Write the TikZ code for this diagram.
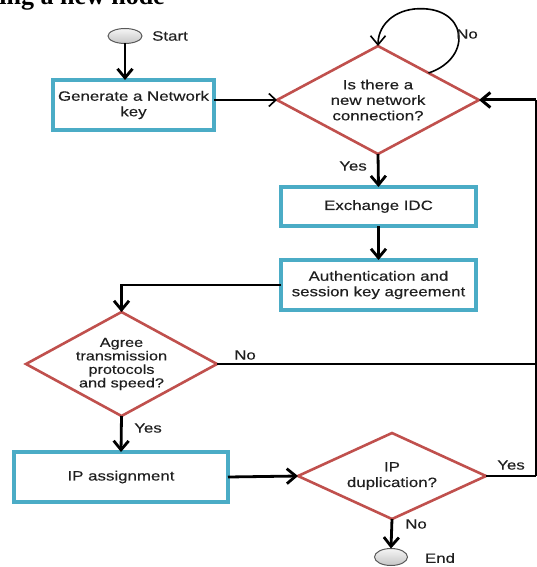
\documentclass[tikz,border=0pt]{standalone}
\usepackage{fontspec}
\setmainfont{Liberation Sans}[FakeStretch=1.25,FakeBold=0.3]
\newfontfamily\titlefont{Liberation Serif}
\usetikzlibrary{shapes.geometric,arrows.meta,calc}
\definecolor{boxc}{HTML}{4BACC6}
\definecolor{diac}{HTML}{C0504D}
\definecolor{txtc}{HTML}{1F1F1F}
\tikzset{
  txt/.style={font=\fontsize{13.5}{15.5}\selectfont, text=txtc, align=center, inner sep=0pt},
  proc/.style={rectangle, draw=boxc, line width=3.3pt, fill=white, inner sep=0pt, outer sep=0pt, txt},
  dia/.style={diamond, draw=diac, line width=2.6pt, fill=white, inner sep=0pt, outer sep=0pt},
  term/.style={ellipse, draw=gray!70!black, line width=1pt, top color=gray!8, bottom color=gray!45, inner sep=0pt, outer sep=0pt},
  arr/.style={-{Straight Barb[length=9pt,width=15pt]}, line width=2.8pt, black},
  thinarr/.style={-{Straight Barb[length=7pt,width=13pt]}, line width=1.6pt, black},
  conn/.style={line width=2.3pt, black},
  lbl/.style={txt}
}
\begin{document}
\begin{tikzpicture}[x=1pt,y=-1pt]
\useasboundingbox (0,0) rectangle (537,567);
\begin{scope}
\clip (0,0) rectangle (537,567);
\node[anchor=base east, font=\titlefont\bfseries\fontsize{26}{28}\selectfont, inner sep=0pt] (title) at (165,5) {ing a new node};
\end{scope}

% nodes
\node[term, minimum width=34pt, minimum height=15pt] (start) at (125,36) {};
\node[lbl] (startl) at (170,36) {Start};
\node[proc, minimum width=161pt, minimum height=50pt] (gen) at (133.5,105) {Generate a Network\\key};
\node[dia, minimum width=202pt, minimum height=108pt] (d1) at (378,100) {};
\node[txt] (d1t) at (d1.center) {Is there a\\new network\\connection?};
\node[proc, minimum width=195pt, minimum height=39pt] (exch) at (378.5,206.5) {Exchange IDC};
\node[proc, minimum width=195pt, minimum height=50pt] (auth) at (378.5,285) {Authentication and\\session key agreement};
\node[dia, minimum width=191pt, minimum height=104pt] (d2) at (121.5,364) {};
\node[txt, font=\fontsize{13}{13.5}\selectfont] (d2t) at (d2.center) {Agree\\transmission\\protocols\\and speed?};
\node[proc, minimum width=214pt, minimum height=50pt] (ip) at (121,477) {IP assignment};
\node[dia, minimum width=188pt, minimum height=86pt] (d3) at (392,476) {};
\node[txt] (d3t) at (d3.center) {IP\\duplication?};
\node[term, minimum width=33pt, minimum height=17pt] (endn) at (391,557) {};
\node[lbl] (endl) at (440,558) {End};

\coordinate (rt1) at (536,100);
\coordinate (rt2) at (536,476);
\coordinate (lp) at ($(d1.north)!0.5!(d1.east)$);

% connectors
\draw[arr] (start.south) -- (start.south |- gen.north);
\draw[thinarr] (gen.east |- d1.west) -- (d1.west);
\draw[arr, line width=1.6pt] (lp) .. controls (474,58) and (468,4) .. (414,9) .. controls (390,12) and (378,28) .. (d1.north);
\node[lbl] (nol) at (467,34) {No};
\draw[arr, line width=3pt] (rt1) -- (d1.east);
\draw[arr] (d1.south) -- (exch.north);
\node[lbl] (y1) at (353,166) {Yes};
\draw[arr] (exch.south) -- (auth.north);
\draw[arr] (auth.west) -| (d2.north);
\draw[conn] (d2.east) -- (d2.east -| rt1);
\node[lbl] (no2) at (245,355) {No};
\draw[arr] (d2.south) -- (ip.north);
\node[lbl] (y2) at (148,428) {Yes};
\draw[arr] (ip.east) -- (d3.west);
\draw[conn, line width=2.6pt] (d3.east) -- (rt2);
\draw[line width=1.5pt] (rt2) -- (rt1);
\node[lbl] (y3) at (511,465) {Yes};
\draw[arr] (d3.south) -- (endn.north);
\node[lbl] (no3) at (416,524) {No};
\end{tikzpicture}
\end{document}
